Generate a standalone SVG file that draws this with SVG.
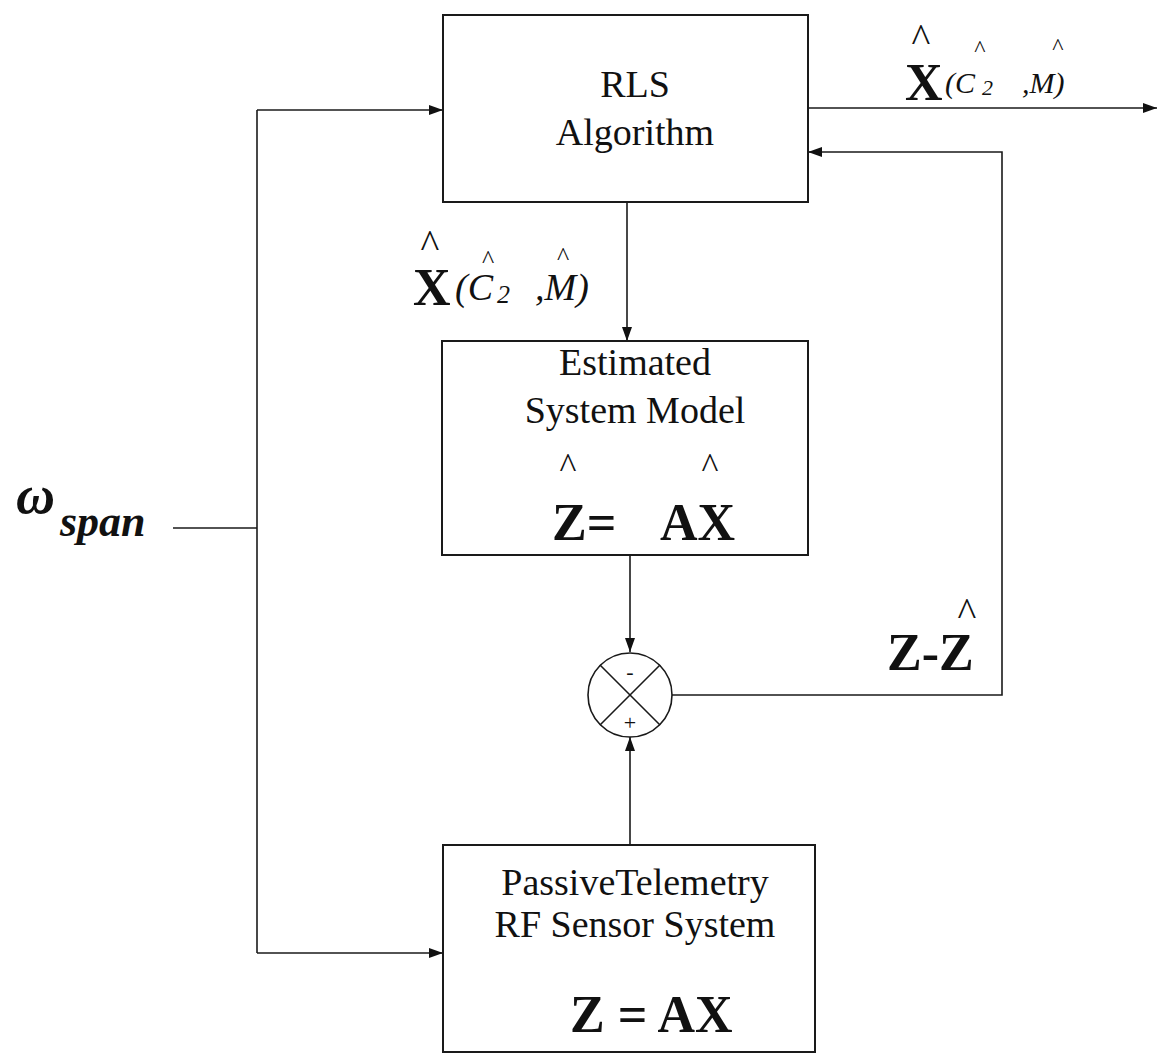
<svg xmlns="http://www.w3.org/2000/svg" width="1159" height="1056" viewBox="0 0 1159 1056">
<style>
.box{fill:#fff;stroke:#1a1a1a;stroke-width:2}
.ln{fill:none;stroke:#1a1a1a;stroke-width:1.6}
.t{font-family:"Liberation Serif","Times New Roman",serif;font-size:38px;fill:#111;text-anchor:middle}
.eq{font-family:"Liberation Serif","Times New Roman",serif;font-size:52px;font-weight:bold;fill:#111}
.it{font-family:"Liberation Serif","Times New Roman",serif;font-style:italic;fill:#111}
.hat{font-family:"Liberation Serif","Times New Roman",serif;fill:#111;text-anchor:middle}
</style>
<defs>
<marker id="ah" viewBox="0 0 14 10" refX="14" refY="5" markerWidth="14" markerHeight="10" markerUnits="userSpaceOnUse" orient="auto">
<path d="M0,0 L14,5 L0,10 Z" fill="#111"/>
</marker>
</defs>
<g id="connectors">
<line class="ln" x1="173" y1="528" x2="257" y2="528"/>
<line class="ln" x1="257" y1="110" x2="257" y2="953"/>
<line class="ln" x1="257" y1="110" x2="443" y2="110" marker-end="url(#ah)"/>
<line class="ln" x1="257" y1="953" x2="443" y2="953" marker-end="url(#ah)"/>
<line class="ln" x1="808" y1="108" x2="1157" y2="108" marker-end="url(#ah)"/>
<line class="ln" x1="627" y1="202" x2="627" y2="341" marker-end="url(#ah)"/>
<line class="ln" x1="630" y1="555" x2="630" y2="652" marker-end="url(#ah)"/>
<line class="ln" x1="630" y1="845" x2="630" y2="737" marker-end="url(#ah)"/>
<polyline class="ln" points="672,695 1002,695 1002,152 808,152" marker-end="url(#ah)"/>
</g>
<g id="rls">
<rect class="box" x="443" y="15" width="365" height="187"/>
<text class="t" x="635" y="97">RLS</text>
<text class="t" x="635" y="145">Algorithm</text>
</g>
<g id="estimated">
<rect class="box" x="442" y="341" width="366" height="214"/>
<text class="t" x="635" y="375">Estimated</text>
<text class="t" x="635" y="423">System Model</text>
<text class="hat" x="568" y="478" font-size="36">^</text>
<text class="hat" x="710" y="478" font-size="36">^</text>
<text class="eq" x="552" y="540">Z=</text>
<text class="eq" x="660" y="540">AX</text>
</g>
<g id="sensor">
<rect class="box" x="443" y="845" width="372" height="207"/>
<text class="t" x="635" y="895">PassiveTelemetry</text>
<text class="t" x="635" y="937">RF Sensor System</text>
<text class="eq" x="570" y="1032">Z = AX</text>
</g>
<g id="sum">
<circle cx="630" cy="695" r="42" fill="#fff" stroke="#1a1a1a" stroke-width="1.6"/>
<line class="ln" x1="600" y1="665" x2="660" y2="725"/>
<line class="ln" x1="660" y1="665" x2="600" y2="725"/>
<text class="hat" x="630" y="679" font-size="22">-</text>
<text class="hat" x="630" y="730" font-size="22">+</text>
</g>
<g id="label-out">
<text class="hat" x="921" y="52" font-size="40">^</text>
<text class="eq" x="905" y="100" font-size="50">X</text>
<text class="it" x="945" y="93" font-size="30">(C</text>
<text class="hat" x="980" y="56" font-size="24">^</text>
<text class="it" x="982" y="95" font-size="22" font-style="normal">2</text>
<text class="it" x="1022" y="93" font-size="30">,M)</text>
<text class="hat" x="1058" y="54" font-size="24">^</text>
</g>
<g id="label-mid">
<text class="hat" x="430" y="258" font-size="40">^</text>
<text class="eq" x="413" y="305">X</text>
<text class="it" x="455" y="300" font-size="38">(C</text>
<text class="hat" x="488" y="268" font-size="26">^</text>
<text class="it" x="497" y="303" font-size="26" font-style="normal">2</text>
<text class="it" x="535" y="300" font-size="38">,M)</text>
<text class="hat" x="563" y="265" font-size="26">^</text>
</g>
<g id="label-err">
<text class="eq" x="887" y="670" font-size="54">Z-Z</text>
<text class="hat" x="967" y="626" font-size="40">^</text>
</g>
<g id="label-omega">
<text class="it" x="16" y="513" font-size="54" font-weight="bold">ω</text>
<text class="it" x="60" y="536" font-size="44" font-weight="bold">span</text>
</g>
</svg>
